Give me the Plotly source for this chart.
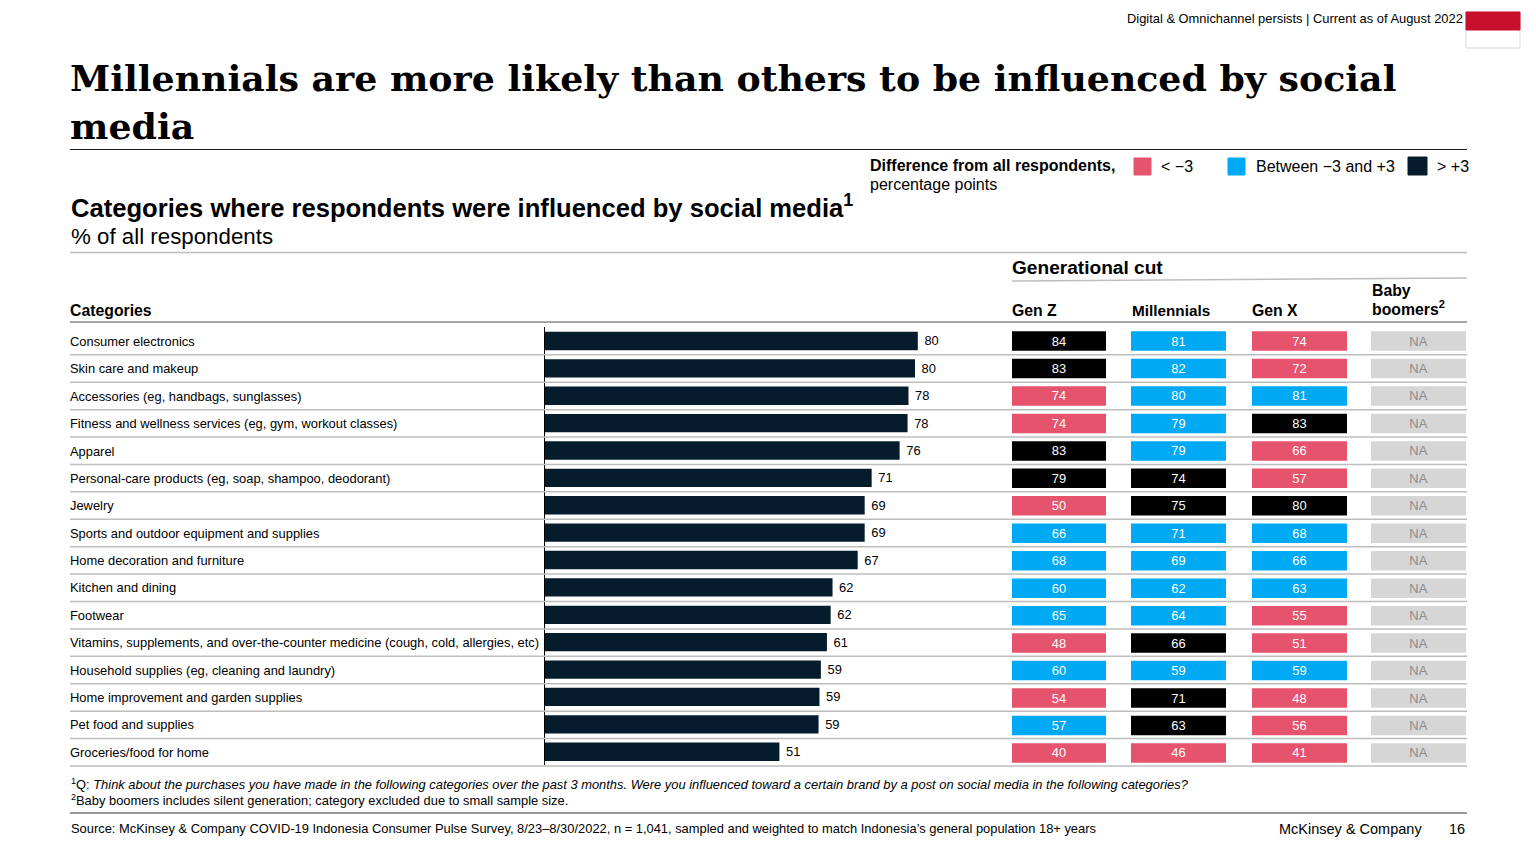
import plotly.graph_objects as go

W, H = 1536, 864

categories = [
    "Consumer electronics",
    "Skin care and makeup",
    "Accessories (eg, handbags, sunglasses)",
    "Fitness and wellness services (eg, gym, workout classes)",
    "Apparel",
    "Personal-care products (eg, soap, shampoo, deodorant)",
    "Jewelry",
    "Sports and outdoor equipment and supplies",
    "Home decoration and furniture",
    "Kitchen and dining",
    "Footwear",
    "Vitamins, supplements, and over-the-counter medicine (cough, cold, allergies, etc)",
    "Household supplies (eg, cleaning and laundry)",
    "Home improvement and garden supplies",
    "Pet food and supplies",
    "Groceries/food for home",
]
# bar lengths, the printed labels are rounded
bar_lengths = [80.0, 79.4, 78.0, 77.8, 76.1, 70.1, 68.6, 68.6, 67.1, 61.7, 61.3, 60.5, 59.2, 58.9, 58.7, 50.3]
all_respondents = [80, 80, 78, 78, 76, 71, 69, 69, 67, 62, 62, 61, 59, 59, 59, 51]
gen_z = [84, 83, 74, 74, 83, 79, 50, 66, 68, 60, 65, 48, 60, 54, 57, 40]
millennials = [81, 82, 80, 79, 79, 74, 75, 71, 69, 62, 64, 66, 59, 71, 63, 46]
gen_x = [74, 72, 81, 83, 66, 57, 80, 68, 66, 63, 55, 51, 59, 48, 56, 41]
# r = below -3, b = between, k = above +3
gen_z_flags = list("kkrrkkrbbbbrbrbr")
millennials_flags = list("bbbbbkkbbbbkbkkr")
gen_x_flags = list("rrbkrrkbbbrrbrrr")

NAVY = "#051C2C"
RED = "#E5546C"
BLUE = "#00A9F4"
BLACK = "#000000"
GRAY = "#D6D6D6"
RULE = "#BDBDBD"
FLAG_COLORS = {"r": RED, "b": BLUE, "k": BLACK}
SANS = "Liberation Sans"
BODY = 12.9


def px(x):
    return x / W


def py(y):
    return 1 - y / H


def label(x, y, text, size=BODY, color="#000000", xanchor="left", family=SANS):
    # annotations carry about 2px of padding, take it back out
    x = x - 2 if xanchor == "left" else x + 2
    return dict(x=px(x), y=py(y), xref="paper", yref="paper", text=text, showarrow=False,
                xanchor=xanchor, yanchor="middle", align="left",
                font=dict(size=size, color=color, family=family))


def rule(x0, y0, x1, y1, color=RULE, width=1.5):
    return dict(type="line", xref="paper", yref="paper", x0=px(x0), x1=px(x1),
                y0=py(y0), y1=py(y1), line=dict(color=color, width=width))


def swatch(x0, y0, x1, y1, color, border=None):
    return dict(type="rect", xref="paper", yref="paper", x0=px(x0), x1=px(x1), y0=py(y0), y1=py(y1),
                fillcolor=color, line=dict(color=border or color, width=1))


fig = go.Figure()

fig.add_trace(go.Bar(
    y=categories, x=bar_lengths, orientation="h", xaxis="x", yaxis="y", width=0.67,
    marker=dict(color=NAVY, line=dict(width=0)),
    text=[f"\u00a0{v}" for v in all_respondents], textposition="outside", cliponaxis=False,
    constraintext="none",
    textfont=dict(size=BODY, color="#000000", family=SANS),
))

columns = [
    ("x2", gen_z, gen_z_flags),
    ("x3", millennials, millennials_flags),
    ("x4", gen_x, gen_x_flags),
    ("x5", ["NA"] * len(categories), ["na"] * len(categories)),
]
for axis, values, flags in columns:
    is_na = flags[0] == "na"
    fig.add_trace(go.Bar(
        y=categories, x=[1] * len(categories), orientation="h", xaxis=axis, yaxis="y2", width=0.71,
        marker=dict(color=[GRAY if f == "na" else FLAG_COLORS[f] for f in flags], line=dict(width=0)),
        text=values, textposition="inside", insidetextanchor="middle", textangle=0,
        constraintext="none",
        textfont=dict(size=BODY, color="#8C8C8C" if is_na else "#FFFFFF", family=SANS),
    ))

shapes = [
    rule(70, 149.5, 1467, 149.5, color="#1A1A1A", width=1),
    rule(70, 252.5, 1467, 252.5),
    rule(1012, 281, 1467, 278),
    rule(70, 322, 1467, 322, color="#A6A6A6", width=2),
    rule(70, 813, 1467, 813, color="#333333", width=1.2),
    swatch(1466, 12, 1520, 48, "#FFFFFF", border="#D9D9D9"),
    swatch(1466, 12, 1520, 30, "#C8102E"),
    swatch(1134, 158, 1151, 175, RED),
    swatch(1228, 158, 1245, 175, BLUE),
    swatch(1408, 157, 1427, 175, NAVY),
]
row_top, row_h = 327.4, 27.41
for i in range(1, len(categories) + 1):
    shapes.append(rule(70, row_top + i * row_h, 1467, row_top + i * row_h))

annotations = [
    label(1463, 18, "Digital &amp; Omnichannel persists | Current as of August 2022", xanchor="right"),
    label(70, 78, "<b>Millennials are more likely than others to be influenced by social</b>", size=36.3, family="DejaVu Serif"),
    label(70, 126, "<b>media</b>", size=36.3, family="DejaVu Serif"),
    label(870, 165.5, "<b>Difference from all respondents,</b>", size=16),
    label(870, 184.5, "percentage points", size=16),
    label(1161, 166, "&lt; −3", size=16),
    label(1256, 166, "Between −3 and +3", size=16),
    label(1437, 166, "&gt; +3", size=16),
    label(71, 206, "<b>Categories where respondents were influenced by social media<sup>1</sup></b>", size=25.6),
    label(71, 236, "% of all respondents", size=22.3),
    label(1012, 267, "<b>Generational cut</b>", size=19.1),
    label(70, 310, "<b>Categories</b>", size=15.8),
    label(1012, 310, "<b>Gen Z</b>", size=15.8),
    label(1132, 310, "<b>Millennials</b>", size=15.3),
    label(1252, 310, "<b>Gen X</b>", size=15.8),
    label(1372, 290, "<b>Baby</b>", size=15.8),
    label(1372, 308, "<b>boomers<sup>2</sup></b>", size=15.8),
    label(71, 784, "<sup>1</sup>Q: <i>Think about the purchases you have made in the following categories over the past 3 months. "
                   "Were you influenced toward a certain brand by a post on social media in the following categories?</i>"),
    label(71, 800, "<sup>2</sup>Baby boomers includes silent generation; category excluded due to small sample size."),
    label(71, 828, "Source: McKinsey &amp; Company COVID-19 Indonesia Consumer Pulse Survey, 8/23–8/30/2022, n = 1,041, "
                   "sampled and weighted to match Indonesia’s general population 18+ years"),
    label(1279, 829, "McKinsey &amp; Company", size=14.5),
    label(1465, 829, "16", size=14.5, xanchor="right"),
]
for name in categories:
    annotations.append(dict(x=px(68), y=name, xref="paper", yref="y", text=name, showarrow=False,
                            xanchor="left", yanchor="middle", yshift=-0.5,
                            font=dict(size=BODY, color="#000000", family=SANS)))

hidden = dict(visible=False, fixedrange=True)
fig.update_layout(
    width=W, height=H,
    margin=dict(l=0, r=0, t=0, b=0),
    paper_bgcolor="#FFFFFF", plot_bgcolor="rgba(0,0,0,0)",
    showlegend=False,
    font=dict(family=SANS),
    shapes=shapes, annotations=annotations,
    xaxis=dict(domain=[px(545), px(1011)], range=[0, 100], visible=False),
    xaxis2=dict(domain=[px(1012), px(1106)], range=[0, 1], anchor="y2", **hidden),
    xaxis3=dict(domain=[px(1131), px(1226)], range=[0, 1], anchor="y2", **hidden),
    xaxis4=dict(domain=[px(1252), px(1347)], range=[0, 1], anchor="y2", **hidden),
    xaxis5=dict(domain=[px(1371), px(1466)], range=[0, 1], anchor="y2", **hidden),
    yaxis=dict(domain=[py(765.4), py(327.3)], autorange="reversed", type="category",
               showticklabels=False, ticks="", showgrid=False, showline=True,
               linecolor="#000000", linewidth=1, anchor="x"),
    yaxis2=dict(domain=[py(766.7), py(327.3)], autorange="reversed", type="category", anchor="x2",
                **hidden),
)

fig.write_html("out.html", config=dict(displayModeBar=False),
               post_script="document.body.style.margin='0';")
